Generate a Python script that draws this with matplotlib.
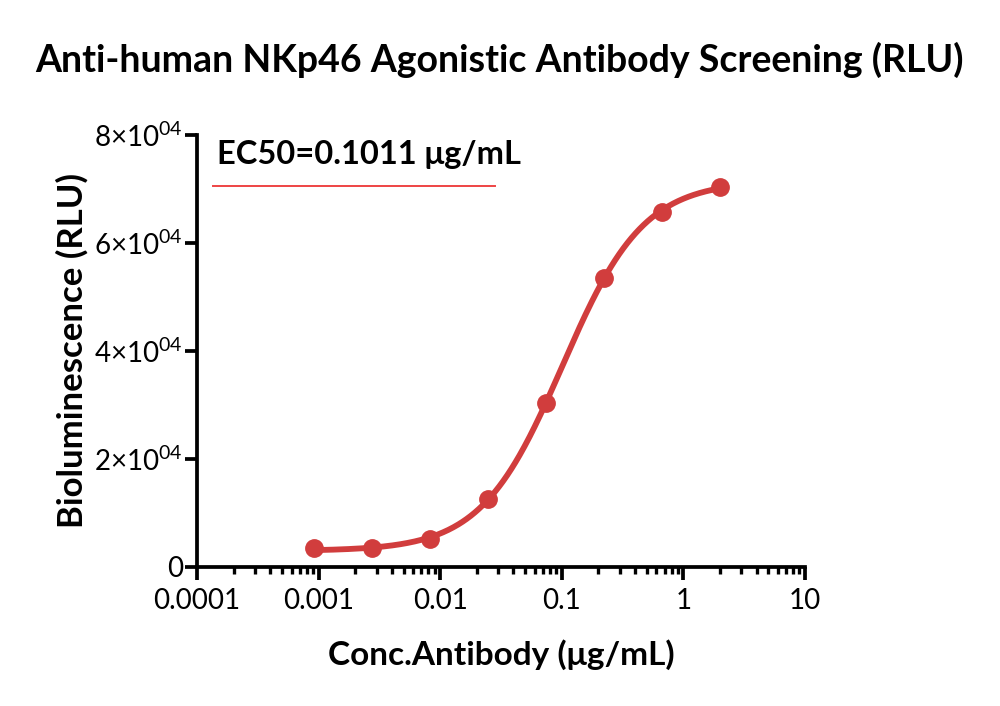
import numpy as np
import matplotlib
matplotlib.use("Agg")
import matplotlib.pyplot as plt
from matplotlib.ticker import FixedLocator, FuncFormatter, LogLocator, NullFormatter
from matplotlib.lines import Line2D

# ---- data ----
conc = [0.000914, 0.00274, 0.00823, 0.0247, 0.0741, 0.222, 0.667, 2.0]
rlu = [3450, 3500, 5150, 12550, 30300, 53450, 65700, 70400]
ec50 = 0.1011
title = "Anti-human NKp46 Agonistic Antibody Screening (RLU)"
xlabel = "Conc.Antibody (μg/mL)"
ylabel = "Bioluminescence (RLU)"
legend_text = "EC50=0.1011 μg/mL"
xtick_vals = [0.0001, 0.001, 0.01, 0.1, 1, 10]
xtick_labels = ["0.0001", "0.001", "0.01", "0.1", "1", "10"]
ytick_vals = [0, 20000, 40000, 60000, 80000]

plt.rcParams['font.family'] = ['Lato', 'DejaVu Sans']
plt.rcParams['mathtext.fontset'] = 'custom'
plt.rcParams['mathtext.rm'] = 'Lato'
plt.rcParams['mathtext.it'] = 'Lato'

red = '#d13d3d'

# 4PL fit with fixed EC50 (least squares via grid on hill, linear solve for bottom/top)
x = np.array(conc); y = np.array(rlu, dtype=float)
best = None
for h in np.linspace(0.5, 3.0, 501):
    f = 1.0 / (1.0 + (ec50 / x) ** h)
    A = np.vstack([1 - f, f]).T
    coef, *_ = np.linalg.lstsq(A, y, rcond=None)
    err = np.sum((A @ coef - y) ** 2)
    if best is None or err < best[0]:
        best = (err, h, coef)
_, hill, (bottom, top) = best
xs = np.logspace(np.log10(conc[0]), np.log10(conc[-1]), 400)
ys = bottom + (top - bottom) / (1.0 + (ec50 / xs) ** hill)

fig = plt.figure(figsize=(10, 7.06), dpi=100)
ax = fig.add_axes([0.197, 0.197, 0.608, 0.612])
ax.set_xscale('log')
ax.set_xlim(0.0001, 10)
ax.set_ylim(0, 80000)

ax.plot(xs, ys, color=red, lw=4.2, solid_capstyle='round', zorder=3)
ax.plot(conc, rlu, 'o', color=red, ms=12.5, zorder=4)

for s in ['top', 'right']:
    ax.spines[s].set_visible(False)
for s in ['left', 'bottom']:
    ax.spines[s].set_linewidth(2.7)

ax.xaxis.set_major_locator(FixedLocator(xtick_vals))
ax.set_xticklabels(xtick_labels)
ax.xaxis.set_minor_locator(LogLocator(base=10, subs=np.arange(2, 10)))
ax.xaxis.set_minor_formatter(NullFormatter())
ax.yaxis.set_major_locator(FixedLocator(ytick_vals))

def yfmt(v, pos):
    if v == 0:
        return "0"
    return r"%d×10$^{04}$" % int(round(v / 10000))
ax.yaxis.set_major_formatter(FuncFormatter(yfmt))

ax.tick_params(axis='both', which='major', length=9, width=2.7, labelsize=20, pad=6)
ax.tick_params(axis='y', which='major', pad=1)
ax.tick_params(axis='x', which='minor', length=5, width=2.4)

ax.set_xlabel(xlabel, fontsize=24, fontweight='bold', labelpad=18)
ax.set_ylabel(ylabel, fontsize=25, fontweight='bold', labelpad=4)
fig.text(0.499, 0.915, title, ha='center', va='center', fontsize=27, fontweight='bold')

ax.text(0.033, 0.955, legend_text, transform=ax.transAxes, fontsize=23.5, fontweight='bold',
        ha='left', va='center')
ax.add_line(Line2D([0.027, 0.49], [0.882, 0.882], transform=ax.transAxes,
                   color='#ee4444', lw=1.4))

fig.savefig('out.png', dpi=100)
